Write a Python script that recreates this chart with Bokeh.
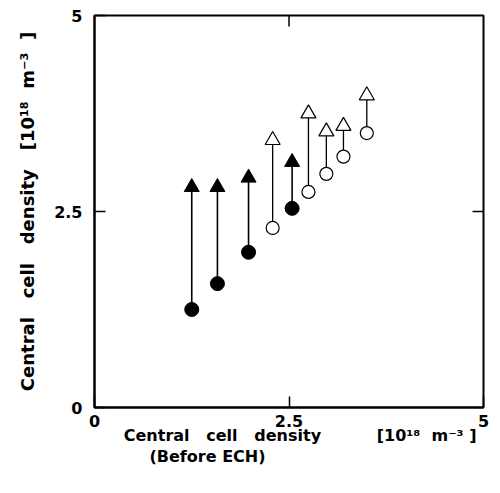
import math
from bokeh.plotting import figure
from bokeh.models import Range1d, FixedTicker, ColumnDataSource, Title
from bokeh.embed import file_html
from bokeh.resources import INLINE

# ---- data (units of 10^18 m^-3) ----
ticks = [0, 2.5, 5]
tick_labels = ["0", "2.5", "5"]

filled_before = [1.25, 1.58, 1.98, 2.54]
filled_after = [2.81, 2.81, 2.93, 3.13]
open_before = [2.29, 2.75, 2.98, 3.20, 3.50]
open_after = [3.41, 3.75, 3.52, 3.59, 3.98]

FONT = "DejaVu Sans"
NB = "\u00a0"
LO, HI = ticks[0], ticks[-1]

p = figure(width=492, height=485, x_range=Range1d(LO, HI), y_range=Range1d(LO, HI),
           output_backend="svg", toolbar_location=None,
           min_border_left=94, min_border_right=9, min_border_top=15, min_border_bottom=78)
p.grid.visible = False
p.outline_line_color = "black"
p.outline_line_width = 2
p.background_fill_color = "white"
p.border_fill_color = "white"

overrides = {t: s for t, s in zip(ticks, tick_labels)}
for ax in (p.xaxis[0], p.yaxis[0]):
    ax.ticker = FixedTicker(ticks=ticks)
    ax.major_label_overrides = overrides
    ax.axis_line_color = "black"
    ax.axis_line_width = 2
    ax.major_tick_in = 11
    ax.major_tick_out = 0
    ax.major_tick_line_width = 1.5
    ax.minor_tick_line_color = None
    ax.major_label_text_font = FONT
    ax.major_label_text_font_style = "bold"
    ax.major_label_text_font_size = "16px"
    ax.major_label_text_color = "black"
    ax.axis_label_text_font = FONT
    ax.axis_label_text_font_style = "bold"
    ax.axis_label_text_color = "black"

p.xaxis[0].major_label_standoff = 7
p.yaxis[0].major_label_standoff = 12

p.xaxis[0].axis_label = (NB * 4 + "Central" + NB * 3 + "cell" + NB * 3 + "density" + NB * 10
                         + "[10\u00b9\u2078" + NB * 2 + "m\u207b\u00b3" + NB + "]")
p.xaxis[0].axis_label_text_font_size = "16px"
p.xaxis[0].axis_label_standoff = -4

p.yaxis[0].axis_label = ("Central" + NB * 3 + "cell" + NB * 3 + "density" + NB * 3
                         + "[10\u00b9\u2078" + NB * 2 + "m\u207b\u00b3" + NB * 2 + "]")
p.yaxis[0].axis_label_text_font_size = "18px"
p.yaxis[0].axis_label_standoff = 13

sub = Title(text="(Before ECH)", align="left", offset=55, standoff=-5,
            text_font=FONT, text_font_style="bold", text_font_size="16px",
            text_color="black")
p.add_layout(sub, "below")

# inside ticks on the top and right edges (interior tick values only)
inner = [t for t in ticks if LO < t < HI]
p.scatter(x=inner, y=[HI] * len(inner), marker="dash", angle=math.pi / 2, size=22,
          line_color="black", line_width=1.5)
p.scatter(x=[HI] * len(inner), y=inner, marker="dash", size=22,
          line_color="black", line_width=1.5)

# ---- arrows ----
fsrc = ColumnDataSource(dict(x=filled_before, y0=filled_before, y1=filled_after))
osrc = ColumnDataSource(dict(x=open_before, y0=open_before, y1=open_after))

p.segment(x0="x", y0="y0", x1="x", y1="y1", source=fsrc, line_color="black", line_width=1.6)
p.segment(x0="x", y0="y0", x1="x", y1="y1", source=osrc, line_color="black", line_width=1.3)

p.scatter(x="x", y="y1", source=fsrc, marker="triangle", size=15,
          fill_color="black", line_color="black", line_width=1)
p.scatter(x="x", y="y1", source=osrc, marker="triangle", size=15,
          fill_color="white", line_color="black", line_width=1.2)
p.scatter(x="x", y="y0", source=fsrc, marker="circle", size=14,
          fill_color="black", line_color="black", line_width=1)
p.scatter(x="x", y="y0", source=osrc, marker="circle", size=13,
          fill_color="white", line_color="black", line_width=1.2)

open("out.html", "w").write(file_html(p, INLINE))
